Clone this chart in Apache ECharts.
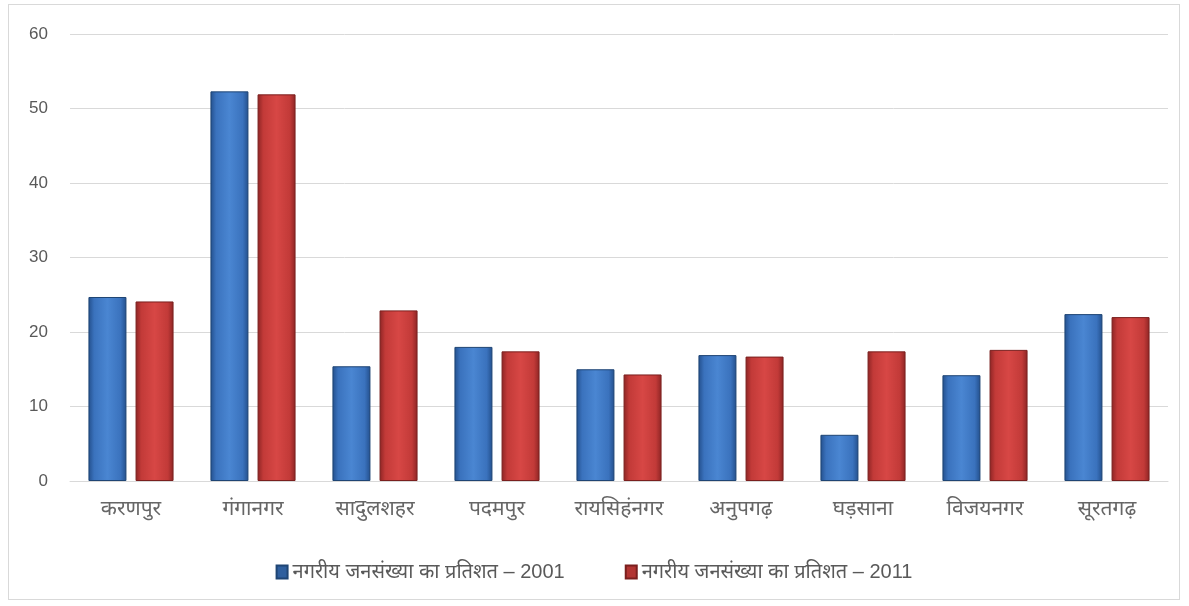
<!DOCTYPE html>
<html><head><meta charset="utf-8">
<script src="https://cdn.jsdelivr.net/npm/echarts@6/dist/echarts.min.js"></script>
<style>
html,body{margin:0;padding:0;background:#fff;}
#box{position:absolute;left:8px;top:4px;width:1172px;height:596px;border:1px solid #d9d9d9;box-sizing:border-box;}
#c{width:100%;height:100%;}
</style></head>
<body><div id="box"><div id="c"></div></div>
<script>
const categories = ['करणपुर','गंगानगर','सादुलशहर','पदमपुर','रायसिहंनगर','अनुपगढ़','घड़साना','विजयनगर','सूरतगढ़'];
const seriesNames = ['नगरीय जनसंख्या का प्रतिशत – 2001','नगरीय जनसंख्या का प्रतिशत – 2011'];
const values2001 = [24.7, 52.3, 15.4, 18.0, 15.0, 16.9, 6.2, 14.2, 22.4];
const values2011 = [24.1, 51.9, 22.9, 17.4, 14.3, 16.7, 17.4, 17.6, 22.0];
const yTicks = [0, 10, 20, 30, 40, 50, 60];

function grad(dark, mid, light){
  return new echarts.graphic.LinearGradient(0,0,1,0,[
    {offset:0,color:dark},{offset:0.15,color:mid},{offset:0.5,color:light},{offset:0.85,color:mid},{offset:1,color:dark}]);
}
const blue = grad('#234f8c','#3a72bd','#4a86d2');
const red = grad('#8c2424','#c23a38','#d74745');
const font = "'Liberation Sans', Arial, 'Noto Sans', sans-serif";
const chart = echarts.init(document.getElementById('c'));
chart.setOption({
  animation:false,
  grid:{left:61,right:11,top:29,bottom:118,containLabel:false},
  legend:{top:552,left:'center',itemWidth:11,itemHeight:13,itemGap:60,
    textStyle:{fontFamily:font,fontSize:20,color:'#595959'},
    icon:'rect',
    data:[{name:seriesNames[0],itemStyle:{color:'#2f5f9e'}},{name:seriesNames[1],itemStyle:{color:'#b23432'}}]},
  xAxis:{type:'category',data:categories,
    axisLine:{lineStyle:{color:'#d9d9d9',width:1}},axisTick:{show:false},
    axisLabel:{fontFamily:font,fontSize:21,color:'#666666',margin:18,interval:0}},
  yAxis:{type:'value',min:yTicks[0],max:yTicks[yTicks.length-1],interval:10,
    axisLine:{show:false},axisTick:{show:false},
    splitLine:{lineStyle:{color:'#d9d9d9',width:1}},
    axisLabel:{fontFamily:font,fontSize:17,color:'#595959',margin:22}},
  series:[
    {name:seriesNames[0],type:'bar',data:values2001,barWidth:38,barGap:'24%',
      itemStyle:{color:blue,borderColor:'#1f4574',borderWidth:1}},
    {name:seriesNames[1],type:'bar',data:values2011,barWidth:38,
      itemStyle:{color:red,borderColor:'#7a1f1e',borderWidth:1}}
  ]
});
</script></body></html>
